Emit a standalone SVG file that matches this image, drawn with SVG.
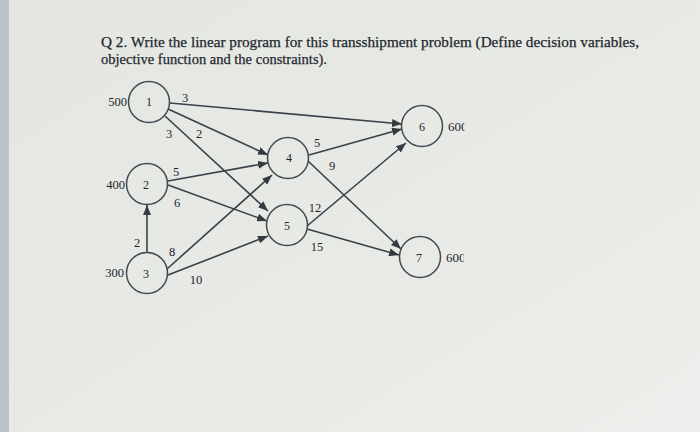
<svg xmlns="http://www.w3.org/2000/svg" width="700" height="432" viewBox="0 0 700 432">
<defs>
<linearGradient id="bg" x1="0" y1="0" x2="1" y2="1">
<stop offset="0" stop-color="#e3e6e1"/>
<stop offset="0.6" stop-color="#e8eae6"/>
<stop offset="1" stop-color="#eeefec"/>
</linearGradient>
<marker id="arr" markerUnits="userSpaceOnUse" markerWidth="11" markerHeight="8" refX="10" refY="4" orient="auto">
<path d="M0,0 L10,4 L0,8 z" fill="#363a43"/>
</marker>
<clipPath id="c6"><rect x="440" y="110" width="24.5" height="30"/></clipPath>
<clipPath id="c7"><rect x="440" y="245" width="23.5" height="30"/></clipPath>
</defs>
<style>
.t{font-family:"Liberation Serif","Times New Roman",serif;fill:#23262d}
.title{font-size:15.5px;stroke:#23262d;stroke-width:0.25}
.n{font-size:12px;text-anchor:middle}
.l{font-size:12.5px;text-anchor:middle}
.s{font-size:12.5px;text-anchor:end}
.d{font-size:13px}
.node circle{fill:none;stroke:#444952;stroke-width:1.5}
.edges line{stroke:#3b4049;stroke-width:1.6;marker-end:url(#arr)}
</style>
<rect width="700" height="432" fill="url(#bg)"/>
<rect width="9" height="432" fill="#bcc3cc"/>
<text class="t title" x="101" y="47" textLength="538" lengthAdjust="spacingAndGlyphs">Q 2. Write the linear program for this transshipment problem (Define decision variables,</text>
<text class="t title" x="101" y="64" textLength="226" lengthAdjust="spacingAndGlyphs">objective function and the constraints).</text>
<g class="edges" id="connectors">
<line x1="170" y1="103" x2="402" y2="124"/>
<line x1="168" y1="109" x2="268" y2="155"/>
<line x1="165" y1="116" x2="268" y2="211"/>
<line x1="168" y1="181" x2="268" y2="163"/>
<line x1="168" y1="185" x2="267" y2="221"/>
<line x1="147" y1="252" x2="147" y2="205"/>
<line x1="167" y1="269" x2="272" y2="175"/>
<line x1="168" y1="275" x2="268" y2="236"/>
<line x1="309" y1="155" x2="402" y2="129"/>
<line x1="308" y1="161" x2="401" y2="249"/>
<line x1="307" y1="226" x2="406" y2="143"/>
<line x1="307" y1="229" x2="399" y2="255"/>
</g>
<g class="t" id="edge-labels">
<text class="l" x="185" y="102">3</text>
<text class="l" x="169" y="138">3</text>
<text class="l" x="199" y="138">2</text>
<text class="l" x="176" y="176">5</text>
<text class="l" x="177" y="207">6</text>
<text class="l" x="137" y="247">2</text>
<text class="l" x="172" y="256">8</text>
<text class="l" x="196" y="284">10</text>
<text class="l" x="317" y="147">5</text>
<text class="l" x="332" y="170">9</text>
<text class="l" x="315" y="212">12</text>
<text class="l" x="317" y="251">15</text>
</g>
<g id="node1" class="node"><circle cx="149" cy="102" r="20.5"/><text class="t n" x="149" y="106">1</text><text class="t s" x="127" y="106">500</text></g>
<g id="node2" class="node"><circle cx="147" cy="184" r="20.5"/><text class="t n" x="146" y="189">2</text><text class="t s" x="125" y="189">400</text></g>
<g id="node3" class="node"><circle cx="147" cy="273" r="20.5"/><text class="t n" x="146" y="278">3</text><text class="t s" x="124" y="277">300</text></g>
<g id="node4" class="node"><circle cx="288" cy="158" r="20.5"/><text class="t n" x="289" y="162">4</text></g>
<g id="node5" class="node"><circle cx="287" cy="225" r="20.5"/><text class="t n" x="287" y="230">5</text></g>
<g id="node6" class="node"><circle cx="422" cy="126" r="20.5"/><text class="t n" x="422" y="131">6</text><text class="t d" x="448" y="131" clip-path="url(#c6)">600</text></g>
<g id="node7" class="node"><circle cx="420" cy="257" r="20.5"/><text class="t n" x="419" y="262">7</text><text class="t d" x="446" y="262" clip-path="url(#c7)">600</text></g>
</svg>
